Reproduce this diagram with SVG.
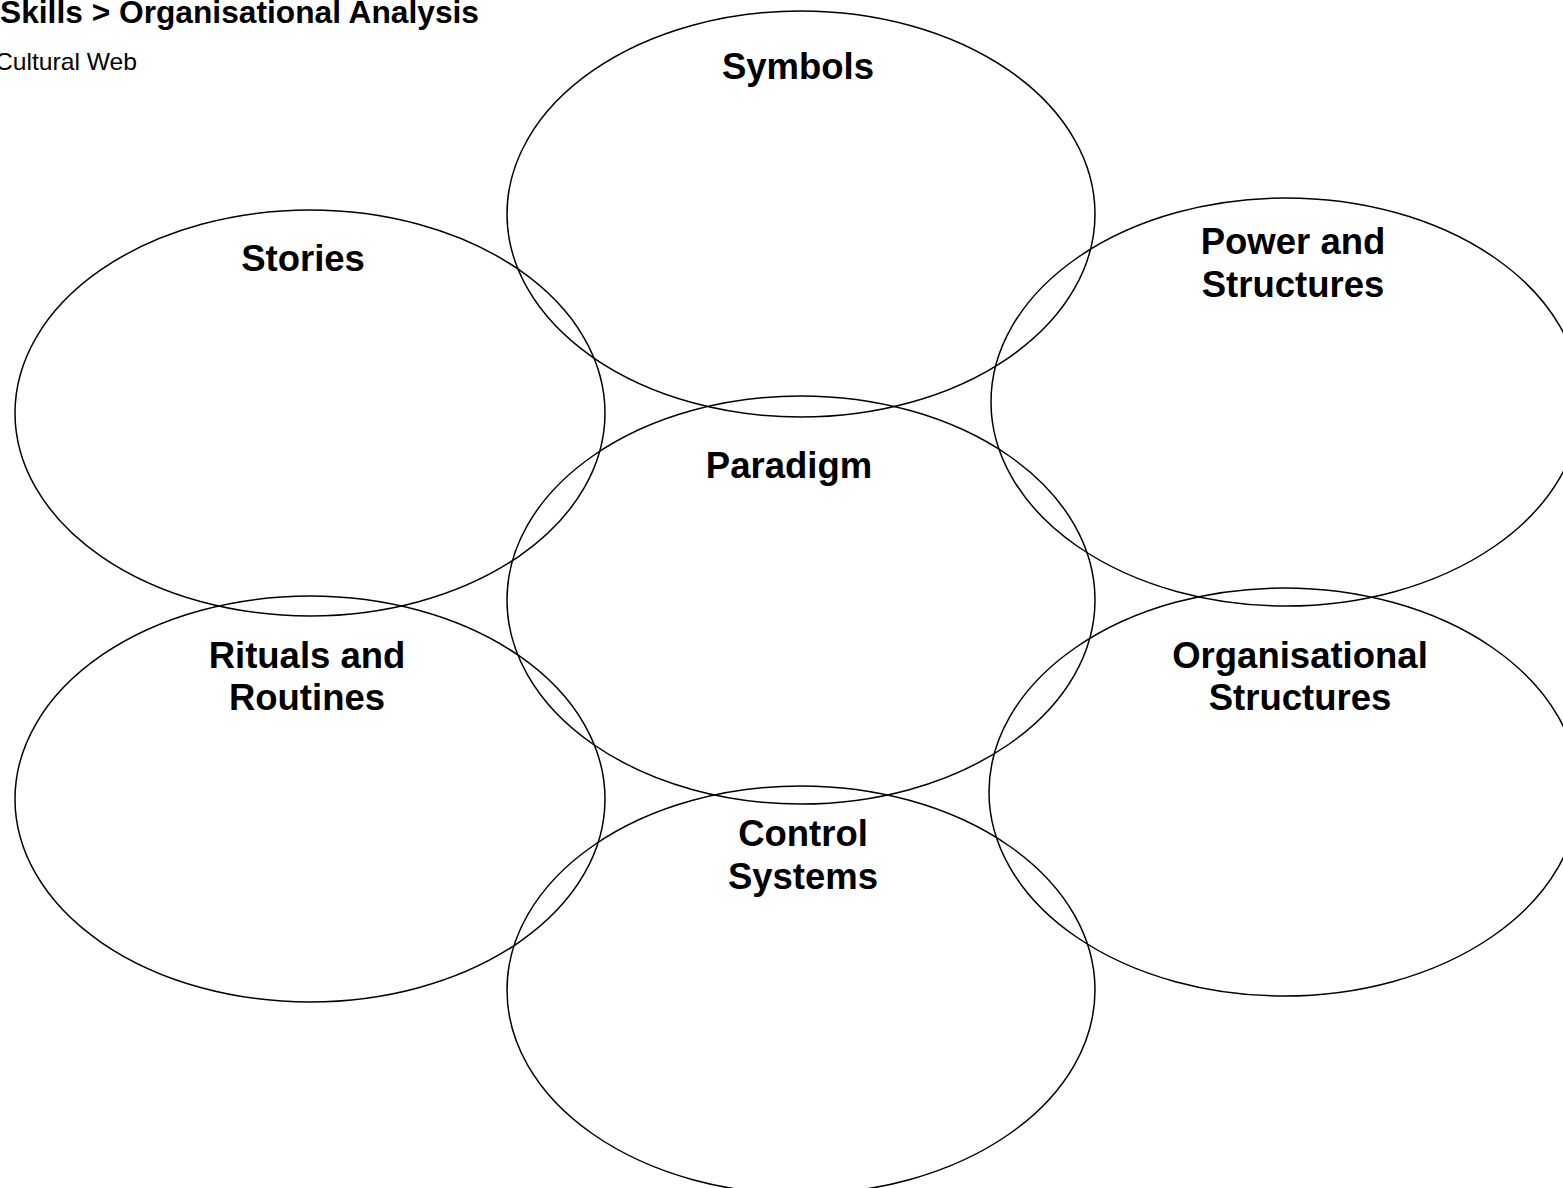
<svg xmlns="http://www.w3.org/2000/svg" width="1563" height="1188" viewBox="0 0 1563 1188">
<style>
.e{fill:none;stroke:#000;stroke-width:1.5}
.l{font-family:"Liberation Sans",Arial,sans-serif;font-weight:bold;font-size:36.5px;text-anchor:middle;fill:#000}
.t{font-family:"Liberation Sans",Arial,sans-serif;fill:#000}
</style>
<rect width="1563" height="1188" fill="#fff"/>
<text class="t" x="0" y="23" font-size="30.5" font-weight="bold" textLength="479" lengthAdjust="spacingAndGlyphs">Skills &gt; Organisational Analysis</text>
<text class="t" x="-5" y="70" font-size="24" textLength="142" lengthAdjust="spacingAndGlyphs">Cultural Web</text>
<g id="symbols"><ellipse class="e" cx="801" cy="214" rx="294" ry="203"/><text class="l" x="798" y="79">Symbols</text></g>
<g id="stories"><ellipse class="e" cx="310" cy="413" rx="295" ry="203"/><text class="l" x="303" y="271">Stories</text></g>
<g id="power"><ellipse class="e" cx="1286" cy="402" rx="295" ry="204"/><text class="l" x="1293" y="254">Power and</text><text class="l" x="1293" y="297">Structures</text></g>
<g id="paradigm"><ellipse class="e" cx="801" cy="600" rx="294" ry="204"/><text class="l" x="789" y="478">Paradigm</text></g>
<g id="rituals"><ellipse class="e" cx="310" cy="799" rx="295" ry="203"/><text class="l" x="307" y="668">Rituals and</text><text class="l" x="307" y="710">Routines</text></g>
<g id="organisational"><ellipse class="e" cx="1284" cy="792" rx="295" ry="204"/><text class="l" x="1300" y="668">Organisational</text><text class="l" x="1300" y="710">Structures</text></g>
<g id="control"><ellipse class="e" cx="801" cy="990" rx="294" ry="204"/><text class="l" x="803" y="846">Control</text><text class="l" x="803" y="889">Systems</text></g>
<g id="connectors"/>
</svg>
